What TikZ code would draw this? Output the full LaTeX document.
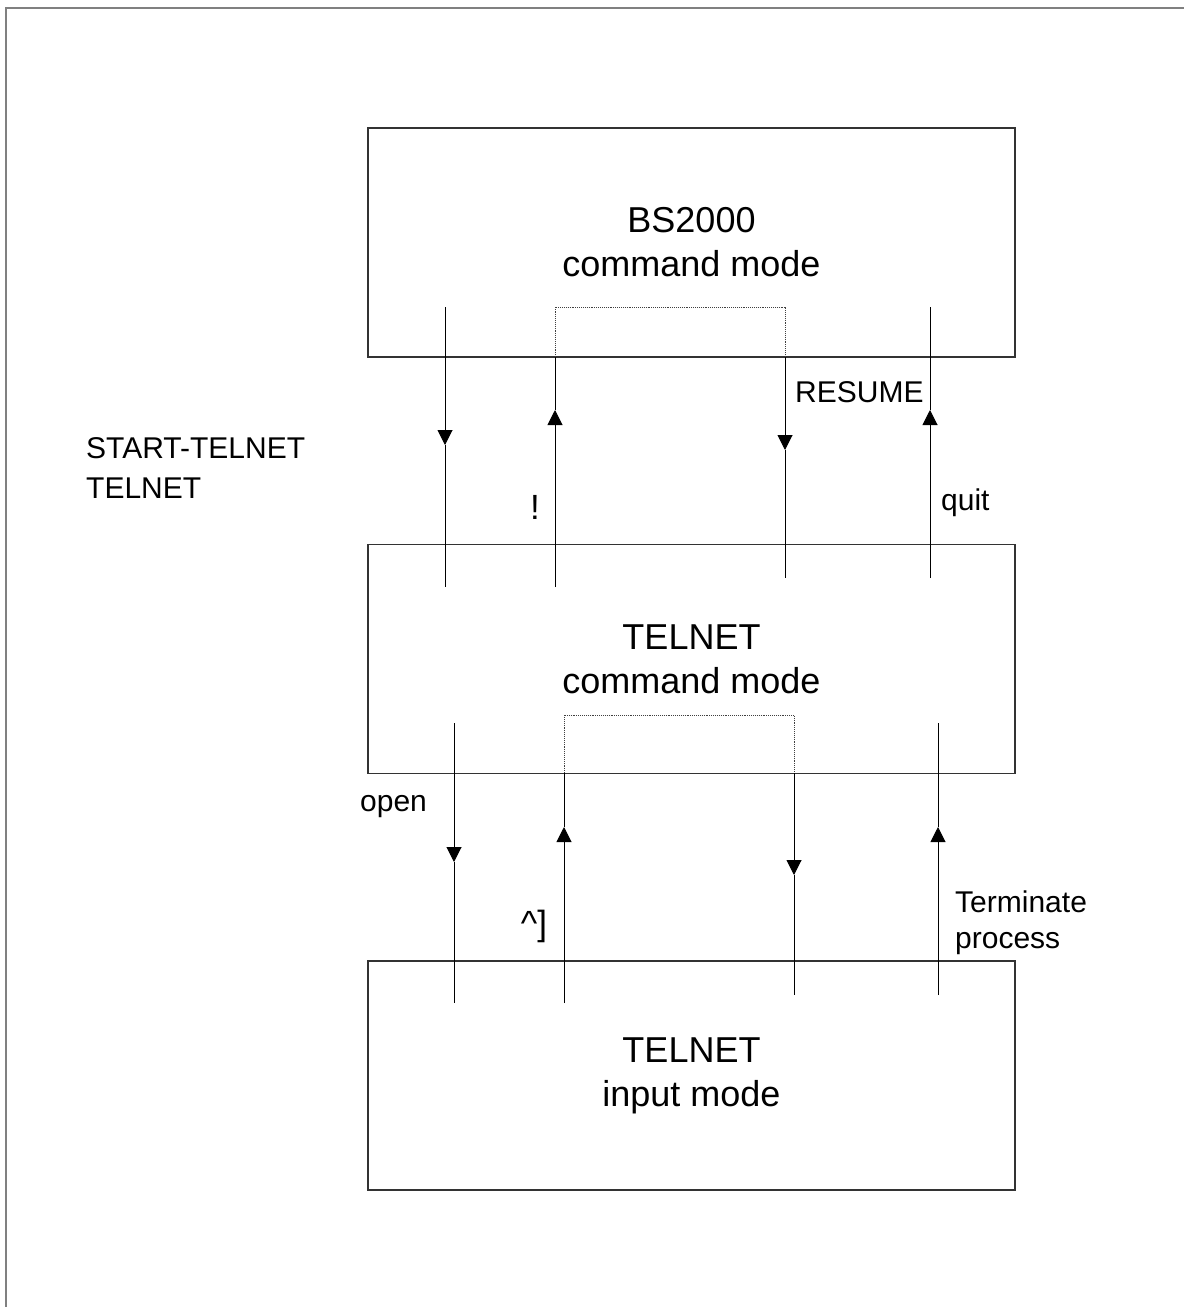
\documentclass[tikz,border=0pt]{standalone}
\usepackage{fontspec}
\setmainfont{Liberation Sans}
\usetikzlibrary{arrows.meta}
\tikzset{
  modebox/.style={draw=black!80,line width=1.3pt,minimum width=647pt,minimum height=229pt,
    align=center,inner sep=0pt,font=\fontsize{36}{44}\selectfont},
  lbl/.style={inner sep=0pt,align=left,anchor=west,font=\fontsize{30}{40}\selectfont},
  keylbl/.style={inner sep=0pt,anchor=center,font=\fontsize{35}{40}\selectfont},
  flow/.style={line width=1pt},
  tipflow/.style={line width=1pt,-{Triangle[length=15pt,width=15pt]}},
  link/.style={densely dotted,line width=0.9pt,black!75},
}
\begin{document}
\begin{tikzpicture}[x=1pt,y=-1pt]
\useasboundingbox (0,0) rectangle (1184,1307);

% Drawing outer frame
\draw[gray,line width=2pt] (6,1307) -- (6,8) -- (1184,8);

% Drawing mode boxes
\node[modebox] (bs2000) at (691.5,242.5) {BS2000\\command mode};
\node[modebox] (telcmd) at (691.5,659) {TELNET\\command mode};
\node[modebox] (telinp) at (691.5,1075.5) {TELNET\\input mode};

% Points of upper connectors
\coordinate (starttop) at (445,307);  \coordinate (starttip) at (445,445);  \coordinate (startend) at (445,587);
\coordinate (bangtop) at (555,357);   \coordinate (bangtip) at (555,410);   \coordinate (bangend) at (555,587);
\coordinate (bangout) at (555,307);   \coordinate (resout) at (785,307);
\coordinate (restop) at (785,357);    \coordinate (restip) at (785,450);    \coordinate (resend) at (785,578);
\coordinate (quittop) at (930,307);   \coordinate (quittip) at (930,410);   \coordinate (quitend) at (930,578);

% Points of lower connectors
\coordinate (opentop) at (454,723);   \coordinate (opentip) at (454,862);   \coordinate (openend) at (454,1003);
\coordinate (esctop) at (564,773);    \coordinate (esctip) at (564,827);    \coordinate (escend) at (564,1003);
\coordinate (escout) at (564,715);    \coordinate (backout) at (794,715);
\coordinate (backtop) at (794,773);   \coordinate (backtip) at (794,875);   \coordinate (backend) at (794,995);
\coordinate (termtop) at (938,723);   \coordinate (termtip) at (938,827);   \coordinate (termend) at (938,995);

% Drawing START-TELNET
\draw[tipflow] (starttop) -- (starttip);
\draw[flow] (starttip) -- (startend);

% Drawing !
\draw[tipflow] (bangend) -- (bangtip);
\draw[flow] (bangtip) -- (bangtop);
\draw[link] (bangtop) -- (bangout) -- (resout) -- (restop);

% Drawing RESUME
\draw[tipflow] (restop) -- (restip);
\draw[flow] (restip) -- (resend);

% Drawing quit
\draw[tipflow] (quitend) -- (quittip);
\draw[flow] (quittip) -- (quittop);

% Drawing open
\draw[tipflow] (opentop) -- (opentip);
\draw[flow] (opentip) -- (openend);

% Drawing ^]
\draw[tipflow] (escend) -- (esctip);
\draw[flow] (esctip) -- (esctop);
\draw[link] (esctop) -- (escout) -- (backout) -- (backtop);

% Drawing return to input mode
\draw[tipflow] (backtop) -- (backtip);
\draw[flow] (backtip) -- (backend);

% Drawing Terminate process
\draw[tipflow] (termend) -- (termtip);
\draw[flow] (termtip) -- (termtop);

% Marking labels
\node[lbl] (lblstart) at (86,468) {START-TELNET\\TELNET};
\node[keylbl] (lblbang) at (535,507) {!};
\node[lbl] (lblresume) at (795,392) {RESUME};
\node[lbl] (lblquit) at (941,503) {quit};
\node[lbl] (lblopen) at (360,807) {open};
\node[keylbl] (lblesc) at (534,926) {\textasciicircum]};
\node[lbl,font=\fontsize{30}{36}\selectfont] (lblterm) at (955,923) {Terminate\\process};
\end{tikzpicture}
\end{document}
